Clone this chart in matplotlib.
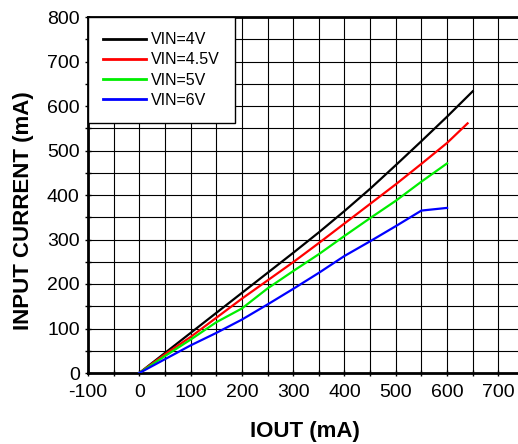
import matplotlib.pyplot as plt
from matplotlib.ticker import MultipleLocator

plt.rcParams["font.family"] = ["Liberation Sans", "DejaVu Sans"]
plt.rcParams["axes.unicode_minus"] = False

# ── Data ────────────────────────────────────────────
iout = [0, 50, 100, 150, 200, 250, 300, 350, 400, 450, 500, 550, 600, 650]
iin_4v = [0, 45, 90, 135, 180, 225, 270, 316, 364, 414, 467, 521, 576, 633]

iout_45v = [0, 50, 100, 150, 200, 250, 300, 350, 400, 450, 500, 550, 600, 640]
iin_45v = [0, 42, 81, 124, 167, 208, 249, 292, 336, 380, 424, 470, 517, 561]

iout_5v = [0, 50, 100, 150, 200, 250, 300, 350, 400, 450, 500, 550, 600]
iin_5v = [0, 38, 75, 114, 145, 190, 229, 267, 308, 348, 387, 430, 471]

iout_6v = [0, 50, 100, 150, 200, 250, 300, 350, 400, 450, 500, 550, 600]
iin_6v = [0, 31, 62, 90, 120, 154, 189, 225, 263, 296, 330, 365, 371]

series = [
    ("VIN=4V", iout, iin_4v, "#000000"),
    ("VIN=4.5V", iout_45v, iin_45v, "#ff0000"),
    ("VIN=5V", iout_5v, iin_5v, "#00ee00"),
    ("VIN=6V", iout_6v, iin_6v, "#0000ff"),
]

x_ticks = [-100, 0, 100, 200, 300, 400, 500, 600, 700]
y_ticks = [0, 100, 200, 300, 400, 500, 600, 700, 800]

# ── Figure ──────────────────────────────────────────
W, H = 518, 444
fig = plt.figure(figsize=(W / 100, H / 100), dpi=100)
ax = fig.add_axes([88 / W, 1 - 373 / H, (524 - 88) / W, (373 - 17) / H])

for label, xs, ys, color in series:
    ax.plot(xs, ys, color=color, lw=1.6, label=label, zorder=3)

ax.set_xlim(-100, 750)
ax.set_ylim(0, 800)
ax.set_xticks(x_ticks)
ax.set_yticks(y_ticks)
ax.xaxis.set_minor_locator(MultipleLocator(50))
ax.yaxis.set_minor_locator(MultipleLocator(50))
ax.grid(True, which="both", color="black", lw=0.8)
ax.set_axisbelow(True)

ax.tick_params(which="both", direction="inout", length=4, width=1,
               labelsize=14, top=False, right=False)
ax.tick_params(axis="x", pad=6)
ax.tick_params(axis="y", pad=4)

for side in ["left", "top", "bottom"]:
    ax.spines[side].set_linewidth(2)
ax.spines["right"].set_visible(False)

leg = ax.legend(loc="upper left", bbox_to_anchor=(0, 1), borderaxespad=0,
                fontsize=11.5, handlelength=2.7, handletextpad=0.3,
                labelspacing=0.33, borderpad=0.95, fancybox=False,
                framealpha=1, edgecolor="black")
leg.get_frame().set_linewidth(1)
for line in leg.get_lines():
    line.set_linewidth(2)

fig.text(305 / W, 1 - 431 / H, "IOUT (mA)", fontsize=16, fontweight="bold",
         ha="center", va="center")
fig.text(23.5 / W, 1 - 211 / H, "INPUT CURRENT (mA)", fontsize=16,
         fontweight="bold", rotation=90, ha="center", va="center")

fig.savefig("out.png", dpi=100)
